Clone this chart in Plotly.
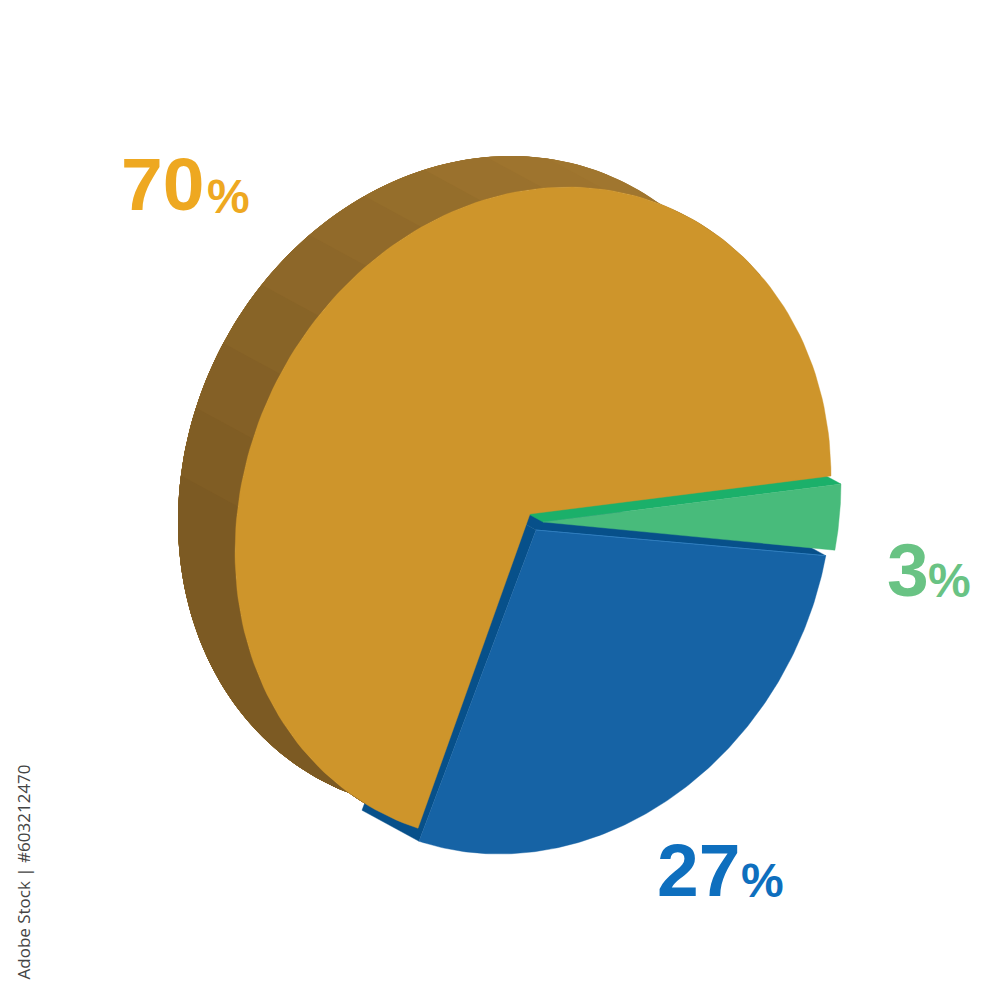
import numpy as np
import plotly.graph_objects as go

# ---- chart data ----
labels = ["70", "27", "3"]
values = [70, 27, 3]
# ---- styling / projection ----
face_colors = ["#CE952B", "#1663A5", "#48BB7B"]
side_colors = ["#7C5A23", "#07508A", "#1BB06A"]
label_colors = ["#EEA821", "#0E6FBE", "#69C384"]
brown_top, brown_low = (160, 118, 47), (124, 90, 35)
CENTER = (533.0, 514.0)
RX, RY, TILT = 298.0, 327.0, 38.0
DEPTH = (-57.0, -31.0)
OFFSETS = [(0.0, 0.0), (1.0, 13.0), (10.0, 8.0)]
APEX_SHIFT = [(-3.0, 0.0), (2.0, 3.0), (0.0, 0.0)]
SWEEP_ADJUST = [-4.7, 3.8, 0.9]
LABEL_POS = [(121, 212, 207, 214), (657, 898, 741, 898), (887, 598, 928, 598)]


def ell(t_deg, off=(0.0, 0.0)):
    t = np.radians(t_deg)
    y = -TILT * np.cos(t) - np.sqrt(RY**2 - TILT**2) * np.sin(t)
    return CENTER[0] + RX * np.cos(t) + off[0], CENTER[1] + y + off[1]


def poly(fig, xs, ys, color, lw=0.4):
    fig.add_trace(go.Scatter(x=list(xs), y=list(ys), mode="lines", fill="toself",
                             fillcolor=color, line=dict(color=color, width=lw),
                             hoverinfo="skip", showlegend=False))


def quad(fig, p, q, color):
    poly(fig, [p[0], q[0], q[0] + DEPTH[0], p[0] + DEPTH[0], p[0]],
         [p[1], q[1], q[1] + DEPTH[1], p[1] + DEPTH[1], p[1]], color)


def apex(i):
    return (CENTER[0] + OFFSETS[i][0] + APEX_SHIFT[i][0],
            CENTER[1] + OFFSETS[i][1] + APEX_SHIFT[i][1])


# slice angles from the values
sweeps = [v * 3.6 + a for v, a in zip(values, SWEEP_ADJUST)]
starts = np.cumsum([0.0] + sweeps[:-1])
ends = starts + np.array(sweeps)

fig = go.Figure()

# orange wall: nested shaded bands, each painted to the end of the wall
for a in np.arange(40.0, 180.0, 12.0):
    f = min(1.0, max(0.0, (a - 70.0) / 100.0))
    rgb = [round(u + (v - u) * f) for u, v in zip(brown_top, brown_low)]
    ts = np.linspace(a, ends[0], 120)
    x0, y0 = ell(ts)
    x1, y1 = ell(ts[::-1], DEPTH)
    poly(fig, np.r_[x0, x1, x0[0]], np.r_[y0, y1, y0[0]], "rgb(%d,%d,%d)" % tuple(rgb), lw=0)

# blue cut faces
quad(fig, apex(1), ell(starts[1], OFFSETS[1]), side_colors[1])
quad(fig, apex(1), ell(ends[1], OFFSETS[1]), side_colors[1])

# green cut face
quad(fig, apex(2), ell(ends[2], OFFSETS[2]), side_colors[2])

# top faces
for i in [0, 1, 2]:
    ts = np.linspace(starts[i], ends[i], 160)
    x, y = ell(ts, OFFSETS[i])
    ax, ay = apex(i)
    poly(fig, np.r_[ax, x, ax], np.r_[ay, y, ay], face_colors[i])

# thin highlight on blue's upper edge
ex, ey = ell(ends[1], OFFSETS[1])
fig.add_trace(go.Scatter(x=[apex(1)[0], ex], y=[apex(1)[1], ey], mode="lines",
                         line=dict(color="#2E7DBE", width=1), hoverinfo="skip", showlegend=False))

# labels
ann = []
FONT = "Liberation Sans, Arial, sans-serif"
for lab, col, (x1, y1, x2, y2) in zip(labels, label_colors, LABEL_POS):
    ann.append(dict(x=x1, y=y1 + 14, text="<b>%s</b>" % lab, xanchor="left", yanchor="bottom",
                    showarrow=False, font=dict(family=FONT, size=75, color=col),
                    borderpad=0, borderwidth=0))
    ann.append(dict(x=x2, y=y2 + 9, text="<b>%</b>", xanchor="left", yanchor="bottom",
                    showarrow=False, font=dict(family=FONT, size=48, color=col),
                    borderpad=0, borderwidth=0))
ann.append(dict(x=23, y=763, text="Adobe Stock | #603212470", textangle=-90, xanchor="center",
                yanchor="top", showarrow=False,
                font=dict(family="Open Sans, sans-serif", size=17, color="#444444")))

fig.update_layout(width=1000, height=1000, margin=dict(l=0, r=0, t=0, b=0),
                  paper_bgcolor="white", plot_bgcolor="white", annotations=ann,
                  xaxis=dict(range=[0, 1000], visible=False, fixedrange=True),
                  yaxis=dict(range=[1000, 0], visible=False, fixedrange=True))
fig.write_html("out.html", config={"displayModeBar": False},
               post_script="document.body.style.margin='0';document.body.style.overflow='hidden';")
